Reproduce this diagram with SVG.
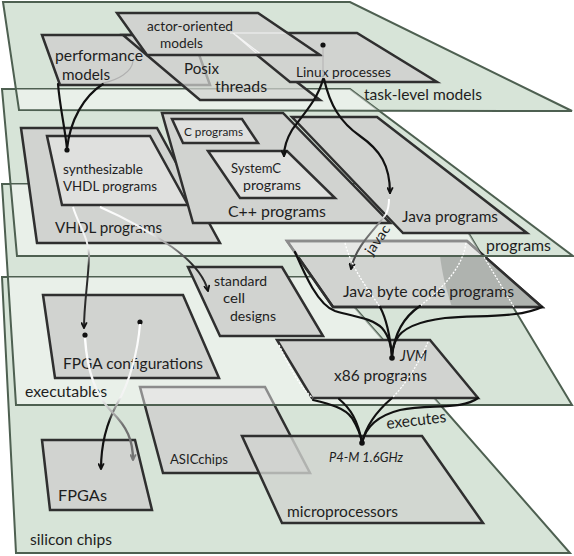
<svg xmlns="http://www.w3.org/2000/svg" width="574" height="556" viewBox="0 0 574 556">
<defs>
<style>
.pf{fill:#d7e4d8}
.pl{fill:none;stroke:#4e6051;stroke-width:2;stroke-linejoin:miter}
.ov{fill:#ffffff;fill-opacity:0.45}
.n{fill:#d1d3d0;stroke:#2f2f2f;stroke-width:2.5;stroke-linejoin:miter}
.in{fill:#dfe0de}
.t{font-family:Lato,'Open Sans','Liberation Sans',sans-serif;fill:#1e1e1e}
.i{font-style:italic}
.c{fill:none;stroke:#111;stroke-width:2.2;stroke-linecap:round}
.w{fill:none;stroke:#ffffff;stroke-width:1.3;stroke-dasharray:2 1.5}
.d{fill:#111}
</style>
<marker id="ah" viewBox="0 0 10 10" refX="9" refY="5" markerWidth="7" markerHeight="7" markerUnits="userSpaceOnUse" orient="auto">
<path d="M1,1 L9,5 L1,9" fill="none" stroke="#111" stroke-width="2.6"/>
</marker>
<marker id="ahg" viewBox="0 0 10 10" refX="9" refY="5" markerWidth="7" markerHeight="7" markerUnits="userSpaceOnUse" orient="auto">
<path d="M1,1 L9,5 L1,9" fill="none" stroke="#777" stroke-width="2.6"/>
</marker>
<clipPath id="cSil"><polygon points="2,277 328,277 570,553 16,553"/></clipPath>
<clipPath id="cExe"><polygon points="2,184 439,184 572,405 16,405"/></clipPath>
<clipPath id="cPrg"><polygon points="2,89 350,89 573,256 17,256"/></clipPath>
<clipPath id="cActor"><polygon points="119,15 256,15 316,53 148,53"/></clipPath>
<linearGradient id="gA" gradientUnits="userSpaceOnUse" x1="0" y1="207" x2="0" y2="266">
<stop offset="0" stop-color="#ffffff"/><stop offset="0.7" stop-color="#eeeeee"/><stop offset="1" stop-color="#2a2a2a"/>
</linearGradient>
<linearGradient id="gB" gradientUnits="userSpaceOnUse" x1="100" y1="0" x2="192" y2="0">
<stop offset="0" stop-color="#ffffff"/><stop offset="0.55" stop-color="#f0f0f0"/><stop offset="1" stop-color="#2a2a2a"/>
</linearGradient>
<linearGradient id="gJ" gradientUnits="userSpaceOnUse" x1="0" y1="199" x2="0" y2="268">
<stop offset="0" stop-color="#ffffff"/><stop offset="0.22" stop-color="#ffffff"/><stop offset="0.35" stop-color="#8a8a8a"/><stop offset="1" stop-color="#333333"/>
</linearGradient>
<linearGradient id="gC" gradientUnits="userSpaceOnUse" x1="0" y1="324" x2="0" y2="422">
<stop offset="0" stop-color="#ffffff"/><stop offset="0.75" stop-color="#f2f2f2"/><stop offset="1" stop-color="#111111"/>
</linearGradient>
<linearGradient id="gD" gradientUnits="userSpaceOnUse" x1="0" y1="338" x2="0" y2="425">
<stop offset="0" stop-color="#ffffff"/><stop offset="0.7" stop-color="#f2f2f2"/><stop offset="1" stop-color="#707070"/>
</linearGradient>
</defs>

<g id="plane-fills">
<polygon class="pf" points="2,277 328,277 570,553 16,553"/>
<polygon class="pf" points="2,184 439,184 572,405 16,405"/>
<polygon class="pf" points="2,89 350,89 573,256 17,256"/>
<polygon class="pf" points="3,2 350,2 572,111 19,110"/>
</g>

<g id="silicon-chips">
<polygon class="pl" points="2,277 328,277 570,553 16,553"/>
<text class="t" x="30" y="545" font-size="16" textLength="82" lengthAdjust="spacingAndGlyphs">silicon chips</text>
</g>
<g id="fpgas">
<polygon class="n" points="42,440 135,440 152,510 50,510"/>
<text class="t" x="58" y="501" font-size="16" textLength="49" lengthAdjust="spacingAndGlyphs">FPGAs</text>
</g>
<g id="asic-chips">
<polygon class="n" points="140,387 265,387 310,473 163,473"/>
<text class="t" x="170" y="464" font-size="13.5" textLength="58" lengthAdjust="spacingAndGlyphs">ASICchips</text>
</g>
<g id="microprocessors">
<polygon class="n" style="fill-opacity:0.8" points="242,436 422,436 483,523 282,523"/>
<text class="t i" x="329" y="462" font-size="12.5" textLength="74" lengthAdjust="spacingAndGlyphs">P4-M 1.6GHz</text>
<text class="t" x="287" y="517" font-size="15" textLength="111" lengthAdjust="spacingAndGlyphs">microprocessors</text>
</g>

<g id="executables">
<polygon class="ov" clip-path="url(#cSil)" points="2,184 439,184 572,405 16,405"/>
<polygon class="pl" points="2,184 439,184 572,405 16,405"/>
<text class="t" x="25" y="397" font-size="16" textLength="82" lengthAdjust="spacingAndGlyphs">executables</text>
</g>
<g id="fpga-configurations">
<polygon class="n" points="43,295 183,295 219,378 55,378"/>
<text class="t" x="63" y="369" font-size="16" textLength="140" lengthAdjust="spacingAndGlyphs">FPGA configurations</text>
</g>
<g id="standard-cell-designs">
<polygon class="n" points="188,267 282,267 323,336 220,336"/>
<text class="t" x="214" y="286" font-size="14" textLength="53" lengthAdjust="spacingAndGlyphs">standard</text>
<text class="t" x="223" y="303" font-size="14" textLength="22" lengthAdjust="spacingAndGlyphs">cell</text>
<text class="t" x="230" y="321" font-size="14" textLength="46" lengthAdjust="spacingAndGlyphs">designs</text>
</g>
<g id="x86-programs">
<polygon class="n" points="277,340 430,340 478,398 312,398"/>
<text class="t i" x="400" y="361" font-size="15" textLength="27" lengthAdjust="spacingAndGlyphs">JVM</text>
<text class="t" x="334" y="381" font-size="16" textLength="93" lengthAdjust="spacingAndGlyphs">x86 programs</text>
</g>
<g id="java-byte-code-programs">
<polygon class="n" points="287,241 467,241 542,307 333,307"/>
<path d="M440,256 L484,256 L542,307 L452,307 C446,290 442,272 440,256 Z" fill="#a9ada9" fill-opacity="0.85"/>
<polygon points="287,241 467,241 542,307 333,307" fill="none" stroke="#2f2f2f" stroke-width="2.5"/>
<path class="w" d="M484,257 L514,307"/>
<text class="t" x="343" y="297" font-size="16" textLength="171" lengthAdjust="spacingAndGlyphs">Java byte code programs</text>
</g>

<g id="programs">
<polygon class="ov" clip-path="url(#cExe)" points="2,89 350,89 573,256 17,256"/>
<polygon class="pl" points="2,89 350,89 573,256 17,256"/>
<text class="t" x="486" y="251" font-size="16" textLength="65" lengthAdjust="spacingAndGlyphs">programs</text>
</g>
<g id="vhdl-programs">
<polygon class="n" points="21,128 157,128 220,243 37,243"/>
<text class="t" x="55" y="233" font-size="16" textLength="107" lengthAdjust="spacingAndGlyphs">VHDL programs</text>
</g>
<g id="synthesizable-vhdl-programs">
<polygon class="n in" points="47,136 150,136 188,205 62,205"/>
<text class="t" x="63" y="174" font-size="14" textLength="80" lengthAdjust="spacingAndGlyphs">synthesizable</text>
<text class="t" x="63" y="191" font-size="14" textLength="94" lengthAdjust="spacingAndGlyphs">VHDL programs</text>
</g>
<g id="cpp-programs">
<polygon class="n" points="162,113 283,113 390,223 193,223"/>
<text class="t" x="228" y="217" font-size="16" textLength="98" lengthAdjust="spacingAndGlyphs">C++ programs</text>
</g>
<g id="c-programs">
<polygon class="n in" points="172,119 242,119 258,143 183,143"/>
<text class="t" x="184" y="136" font-size="12" textLength="59" lengthAdjust="spacingAndGlyphs">C programs</text>
</g>
<g id="systemc-programs">
<polygon class="n in" points="208,151 287,151 335,198 240,198"/>
<text class="t" x="231" y="173" font-size="14" textLength="50" lengthAdjust="spacingAndGlyphs">SystemC</text>
<text class="t" x="243" y="190" font-size="14" textLength="58" lengthAdjust="spacingAndGlyphs">programs</text>
</g>
<g id="java-programs">
<polygon class="n" points="292,117 377,117 527,233 403,233"/>
<text class="t" x="402" y="222" font-size="16" textLength="96" lengthAdjust="spacingAndGlyphs">Java programs</text>
</g>

<g id="task-level-models">
<polygon class="ov" clip-path="url(#cPrg)" points="3,2 350,2 572,111 19,110"/>
<polygon class="pl" points="3,2 350,2 572,111 19,110"/>
<text class="t" x="364" y="100" font-size="16" textLength="118" lengthAdjust="spacingAndGlyphs">task-level models</text>
</g>
<g id="performance-models">
<polygon class="n" points="42,35 192,35 210,85 60,85"/>
<text class="t" x="55" y="61" font-size="16" textLength="88" lengthAdjust="spacingAndGlyphs">performance</text>
<text class="t" x="62" y="80" font-size="16" textLength="48" lengthAdjust="spacingAndGlyphs">models</text>
</g>
<g id="posix-threads">
<polygon class="n" style="fill-opacity:0.72" points="123,35 236,35 320,100 200,100"/>
<text class="t" x="184" y="74" font-size="16" textLength="35" lengthAdjust="spacingAndGlyphs">Posix</text>
<text class="t" x="215" y="92" font-size="16" textLength="52" lengthAdjust="spacingAndGlyphs">threads</text>
</g>
<g id="linux-processes">
<polygon class="n" points="230,33 357,33 437,82 290,82"/>
<text class="t" x="296" y="77" font-size="14" textLength="95" lengthAdjust="spacingAndGlyphs">Linux processes</text>
</g>
<g id="actor-oriented-models">
<polygon class="n" points="117,13 258,13 320,55 147,55"/>
<path d="M230,33 L320,33 M233,33 L290,82 M236,35 L297,82" stroke="#f4f4f4" stroke-width="1.2" fill="none" clip-path="url(#cActor)"/>
<text class="t" x="147" y="31" font-size="14" textLength="86" lengthAdjust="spacingAndGlyphs">actor-oriented</text>
<text class="t" x="160" y="48" font-size="14" textLength="43" lengthAdjust="spacingAndGlyphs">models</text>
</g>

<g id="connectors">
<path class="c" d="M58,84 C60,108 65,128 67,149"/>
<path class="c" d="M103,84 C84,96 70,120 67,149"/>
<path d="M103,83 C118,80 132,72 133,61" stroke="#b0b0b0" stroke-width="1.2" fill="none"/>
<circle class="d" cx="67" cy="150" r="2.6"/>

<path d="M323,47 L323,79" stroke="#bdbdbd" stroke-width="1.5" fill="none"/>
<path class="c" d="M323,79 C318,100 300,118 292,130 C286,140 284,148 284,156" marker-end="url(#ah)"/>
<path class="c" d="M324,79 C330,105 340,122 360,136 C380,150 390,165 390,193" marker-end="url(#ah)"/>
<circle class="d" cx="323" cy="45" r="2.6"/>

<path d="M389,199 C389,206 388,210 386,214 C375,230 356,245 351,269" fill="none" stroke="url(#gJ)" stroke-width="2" marker-end="url(#ah)"/>
<text class="t" transform="translate(372,256) rotate(-55)" font-size="14" textLength="33" lengthAdjust="spacingAndGlyphs">javac</text>

<path d="M73,207 C78,224 90,240 89,258 C88,282 84,305 84,328" fill="none" stroke="url(#gA)" stroke-width="2" marker-end="url(#ah)"/>
<path d="M100,207 C125,218 150,232 172,247 C190,260 204,275 208,291" fill="none" stroke="url(#gB)" stroke-width="2" marker-end="url(#ah)"/>

<circle class="d" cx="85" cy="335" r="2.6"/>
<circle class="d" cx="140" cy="322" r="2.6"/>
<path d="M140,324 C138,350 130,382 117,404 C106,424 101,445 101,469" fill="none" stroke="url(#gC)" stroke-width="2.2" marker-end="url(#ah)"/>
<path d="M85,338 C87,370 95,395 112,412 C127,427 133,440 133,460" fill="none" stroke="url(#gD)" stroke-width="2.4" marker-end="url(#ahg)"/>

<path class="c" d="M295,252 C305,275 318,305 335,311 C355,317 372,318 382,328 C389,336 392,348 392,357"/>
<path class="w" d="M345,243 C352,270 370,292 380,307"/>
<path class="c" d="M380,307 C386,318 390,335 392,357"/>
<path class="w" d="M466,243 C462,270 440,290 420,306"/>
<path class="c" d="M420,306 C402,318 394,335 392,357"/>
<path class="c" d="M542,307 C520,318 480,315 445,318 C420,321 402,328 396,340 C393,346 392,352 392,357"/>
<circle class="d" cx="392" cy="358" r="2.8"/>

<path class="w" d="M279,345 C290,368 300,388 313,398"/>
<path class="c" d="M313,400 C330,404 345,408 352,418 C358,428 361,436 362,443"/>
<path class="c" d="M339,399 C350,408 358,420 362,443"/>
<path class="w" d="M428,342 C418,365 405,385 392,398"/>
<path class="c" d="M392,398 C378,410 366,425 362,443"/>
<path class="c" d="M478,398 C462,410 430,404 400,410 C380,415 366,425 362,443"/>
<circle class="d" cx="362" cy="443" r="2.8"/>
<text class="t" transform="translate(387,429) rotate(-6.7)" font-size="16" textLength="60" lengthAdjust="spacingAndGlyphs">executes</text>
</g>
</svg>
